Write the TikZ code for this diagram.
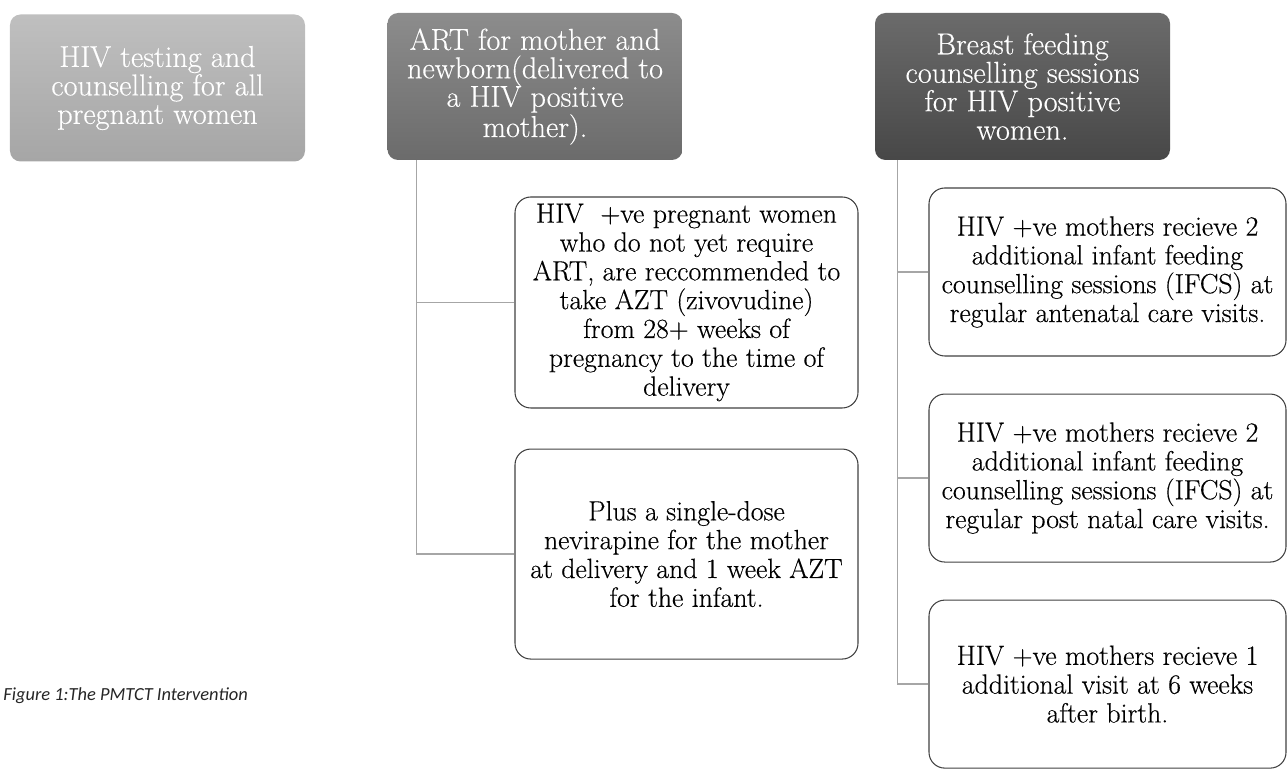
\documentclass[tikz,border=0pt]{standalone}
\usepackage{fontspec}
\newfontfamily\captionfont{Carlito}
\newfontfamily\boxfont{Latin Modern Roman}[FakeBold=0.35]
\usetikzlibrary{positioning}

\begin{document}
\begin{tikzpicture}[node distance=0.74cm,
  head/.style={rounded corners=6pt, align=center, minimum width=5.9cm,
               minimum height=2.94cm, text=white, inner sep=0pt,
               font=\boxfont\fontsize{17.2}{16.2}\selectfont},
  leaf/.style={draw=black!75, line width=0.6pt, rounded corners=9pt, align=center,
               minimum width=6.86cm, inner sep=0pt,
               font=\boxfont\fontsize{15.8}{16.4}\selectfont},
  link/.style={draw=black!35, line width=0.7pt}]
\useasboundingbox (0,0) rectangle (25.76,15.36);
% top row
\node[head, top color=black!25, bottom color=black!35] (test) at (3.15,13.6)
  {HIV testing and\\ counselling for all\\ pregnant women};
\node[head, top color=black!45, bottom color=black!58] (art) at (10.7,13.63)
  {ART for mother and\\ newborn(delivered to\\ a HIV positive\\ mother).};
\node[head, top color=black!58, bottom color=black!72] (feed) at (20.45,13.63)
  {Breast feeding\\ counselling sessions\\ for HIV positive\\ women.};
% ART branch
\node[leaf, minimum height=4.22cm] (azt) at (13.73,9.31)
  {HIV\ \ +ve pregnant women\\ who do not yet require\\ ART, are reccommended to\\
   take AZT (zivovudine)\\ from 28+ weeks of\\ pregnancy to the time of\\ delivery};
\node[leaf, minimum height=4.2cm, below=0.8cm of azt] (nvp)
  {Plus a single-dose\\ nevirapine for the mother\\ at delivery and 1 week AZT\\ for the infant.};
% feeding branch
\node[leaf, minimum width=7.14cm, minimum height=3.36cm] (ante) at (22.15,9.92)
  {HIV +ve mothers recieve 2\\ additional infant feeding\\ counselling sessions (IFCS) at\\
   regular antenatal care visits.};
\node[leaf, minimum width=7.14cm, minimum height=3.36cm, below=of ante] (post)
  {HIV +ve mothers recieve 2\\ additional infant feeding\\ counselling sessions (IFCS) at\\
   regular post natal care visits.};
\node[leaf, minimum width=7.14cm, minimum height=3.36cm, below=of post] (visit)
  {HIV +ve mothers recieve 1\\ additional visit at 6 weeks\\ after birth.};
% connectors
\coordinate (artbus) at ([xshift=0.58cm]art.south west);
\coordinate (feedbus) at ([xshift=0.46cm]feed.south west);
\draw[link] (artbus) |- (azt.west);
\draw[link] (artbus) |- (nvp.west);
\draw[link] (feedbus) |- (ante.west);
\draw[link] (feedbus) |- (post.west);
\draw[link] (feedbus) |- (visit.west);
% caption
\node[anchor=base west, inner sep=0pt, text=black!85,
      font=\captionfont\itshape\fontsize{10.5}{12}\selectfont] (caption) at (0.06,1.36)
  {Figure 1:The PMTCT Intervention};
\end{tikzpicture}
\end{document}
